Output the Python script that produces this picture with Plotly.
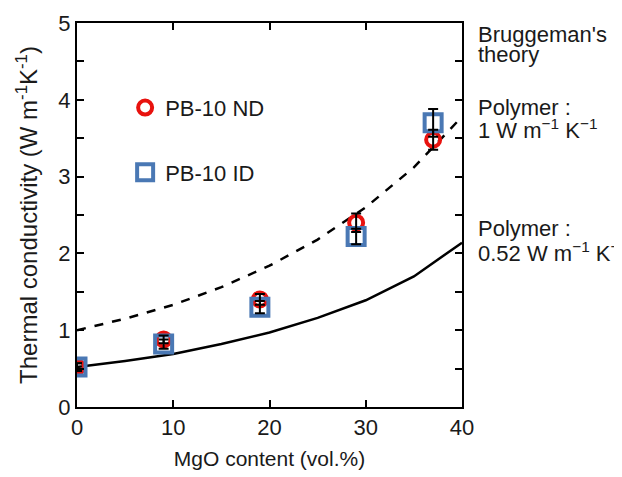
import plotly.graph_objects as go

# Measured data
mgo_content = [0, 9, 19, 29, 37]
nd_values = [0.52, 0.88, 1.40, 2.40, 3.48]
nd_errors = [0.05, 0.05, 0.07, 0.12, 0.13]
id_values = [0.52, 0.82, 1.30, 2.22, 3.70]
id_errors = [0.05, 0.06, 0.08, 0.10, 0.18]

# Bruggeman theory curves
theory_x = [0, 5, 10, 15, 20, 25, 30, 35, 40]
theory_poly_1 = [1.00, 1.15, 1.33, 1.56, 1.84, 2.18, 2.60, 3.12, 3.78]
theory_poly_052 = [0.52, 0.60, 0.69, 0.82, 0.97, 1.16, 1.39, 1.70, 2.14]

FONT = "Liberation Sans, Arial, sans-serif"
RED = "#e8120e"
BLUE = "#4a78b4"
TXT = "#1a1a1a"

fig = go.Figure()

fig.add_trace(go.Scatter(x=theory_x, y=theory_poly_1, mode="lines",
                         line=dict(color="black", width=2.5, dash="dash"),
                         showlegend=False, hoverinfo="skip"))
fig.add_trace(go.Scatter(x=theory_x, y=theory_poly_052, mode="lines",
                         line=dict(color="black", width=2.5),
                         showlegend=False, hoverinfo="skip"))

fig.add_trace(go.Scatter(x=mgo_content, y=nd_values, mode="markers", name="PB-10 ND",
                         legendgroup="nd",
                         marker=dict(symbol="circle-open", size=14, color=RED,
                                     line=dict(width=4, color=RED))))
fig.add_trace(go.Scatter(x=mgo_content, y=id_values, mode="markers", name="PB-10 ID",
                         legendgroup="id",
                         marker=dict(symbol="square-open", size=17, color=BLUE,
                                     line=dict(width=4, color=BLUE))))

# error bars on top
for vals, errs in [(nd_values, nd_errors), (id_values, id_errors)]:
    fig.add_trace(go.Scatter(x=mgo_content, y=vals, mode="markers",
                             marker=dict(size=1, color="rgba(0,0,0,0)"),
                             error_y=dict(type="data", array=errs, color="black",
                                          thickness=2, width=5),
                             showlegend=False, hoverinfo="skip"))

axis_common = dict(showline=True, linecolor="black", linewidth=2, mirror="ticks",
                   ticks="inside", ticklen=7, tickwidth=2, tickcolor="black",
                   showgrid=False, zeroline=False, automargin=False,
                   tickfont=dict(family=FONT, size=22, color=TXT))

fig.update_xaxes(range=[0, 40], dtick=10, **axis_common,
                 title=dict(text="MgO content (vol.%)", standoff=12,
                            font=dict(family=FONT, size=21, color=TXT)))
fig.update_yaxes(range=[0, 5], dtick=1, **axis_common,
                 minor=dict(dtick=0.5, ticks="inside", ticklen=7, tickwidth=2, tickcolor="black"),
                 title=dict(text="Thermal conductivity (W m<sup>-1</sup>K<sup>-1</sup>)", standoff=14,
                            font=dict(family=FONT, size=24, color=TXT)))

ann_font = dict(family=FONT, size=22, color=TXT)
annotations = [
    ("Bruggeman's", 0.971),
    ("theory", 0.917),
    ("Polymer :", 0.781),
    ("1 W m<sup>−1</sup> K<sup>−1</sup>", 0.724),
    ("Polymer :", 0.464),
    ("0.52 W m<sup>−1</sup> K<sup>−1</sup>", 0.404),
]
for text, yy in annotations:
    fig.add_annotation(text=text, xref="paper", yref="paper", x=1.036, y=yy,
                       xanchor="left", yanchor="middle", align="left",
                       showarrow=False, font=ann_font)

fig.update_layout(
    width=622, height=477,
    margin=dict(l=69, r=168, t=15, b=78),
    plot_bgcolor="white", paper_bgcolor="white",
    font=dict(family=FONT, color=TXT),
    legend=dict(x=0.125, y=0.834, xanchor="left", yanchor="top",
                bgcolor="rgba(0,0,0,0)", tracegroupgap=33, itemwidth=30,
                font=dict(family=FONT, size=22, color=TXT)),
)

fig.write_html("out.html")
